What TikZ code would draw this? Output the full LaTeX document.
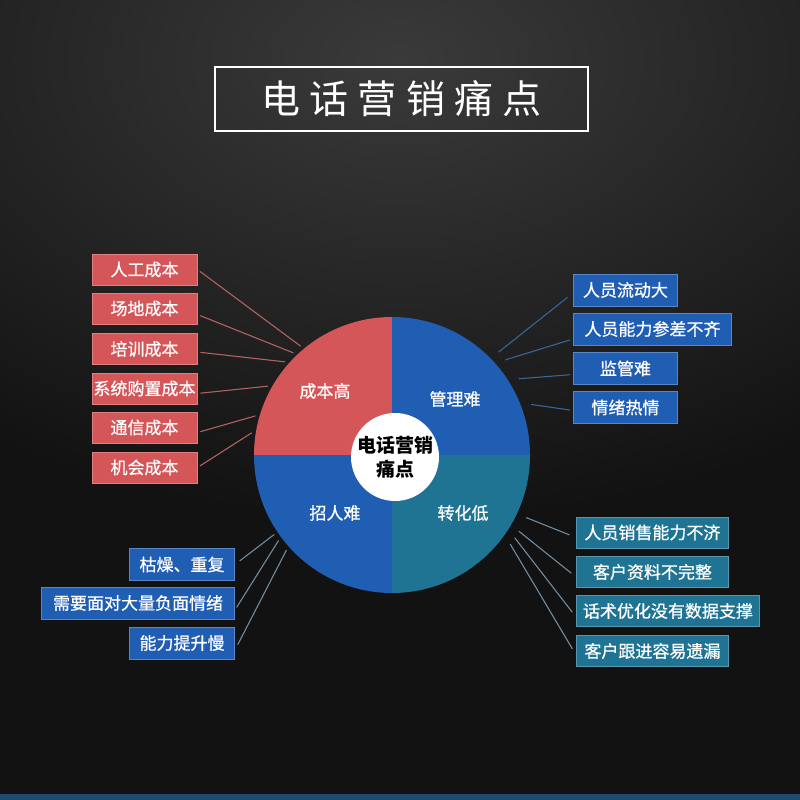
\documentclass[tikz,border=0pt]{standalone}
\usepackage{fontspec}
\setmainfont{Noto Sans CJK SC}
\newfontfamily\titlefont{Noto Sans CJK SC}[LetterSpace=24]
\newfontfamily\boxfont{Noto Sans CJK SC}[FakeBold=0.7]
\usetikzlibrary{calc}
\definecolor{bgdark}{RGB}{18,18,18}
\definecolor{bglight}{RGB}{58,58,58}
\definecolor{costred}{RGB}{212,86,88}
\definecolor{mgmtblue}{RGB}{32,94,180}
\definecolor{convteal}{RGB}{31,116,148}
\definecolor{redln}{RGB}{176,98,98}
\definecolor{blueln}{RGB}{58,100,150}
\definecolor{greyln}{RGB}{112,140,160}
\definecolor{stripblue}{RGB}{28,76,112}

\begin{document}
\begin{tikzpicture}[x=1pt, y=-1pt,
    painbox/.style={fill=#1, draw=#1!75!white, line width=0.9pt, text=white,
                    inner sep=0pt, minimum height=31pt, font=\boxfont\fontsize{17}{20}\selectfont},
    quad/.style={text=white, font=\boxfont\fontsize{17}{20}\selectfont},
    rim/.style={circle, minimum size=#1, inner sep=0pt, outer sep=0pt},
    link/.style={#1, line width=1.1pt, shorten <=3pt}
  ]
  \useasboundingbox (0,0) rectangle (800,800);
  % background
  \fill[bgdark] (0,0) rectangle (800,800);
  \begin{scope}
    \clip (0,0) rectangle (800,800);
    \shade[inner color=bglight, outer color=bgdark] (400,60) ellipse (720 and 460);
  \end{scope}
  \fill[stripblue] (0,794) rectangle (800,800);

  % title
  \node[draw=white, line width=1.3pt, minimum width=373pt, minimum height=64pt,
        text=white, font=\titlefont\fontsize{39}{44}\selectfont] (title) at (401.5,99)
        {电话营销痛点};

  % pie
  \coordinate (o) at (392,455);
  \fill[costred]  (o) -- +(180:138) arc[start angle=180, end angle=270, radius=138] -- cycle;
  \fill[mgmtblue] (o) -- +(270:138) arc[start angle=270, end angle=360, radius=138] -- cycle;
  \fill[convteal] (o) -- +(0:138)   arc[start angle=0,   end angle=90,  radius=138] -- cycle;
  \fill[mgmtblue] (o) -- +(90:138)  arc[start angle=90,  end angle=180, radius=138] -- cycle;
  \node[rim=284pt] (rimL) at (o) {};
  \node[rim=296pt] (rimR) at (o) {};
  \node[circle, fill=white, minimum size=88pt, inner sep=0pt, align=center,
        font=\fontsize{19}{24}\selectfont\bfseries] (core) at (395,457) {电话营销\\痛点};
  \node[quad] (qcost) at (325,391) {成本高};
  \node[quad] (qmgmt) at (455,399) {管理难};
  \node[quad] (qhire) at (335,513) {招人难};
  \node[quad] (qconv) at (463,513) {转化低};

  % cost boxes
  \node[painbox=costred, minimum width=105pt] (cost1) at (144.5,269.5) {人工成本};
  \node[painbox=costred, minimum width=105pt] (cost2) at (144.5,308.5) {场地成本};
  \node[painbox=costred, minimum width=105pt] (cost3) at (144.5,349)   {培训成本};
  \node[painbox=costred, minimum width=105pt] (cost4) at (144.5,388.5) {系统购置成本};
  \node[painbox=costred, minimum width=105pt] (cost5) at (144.5,427.5) {通信成本};
  \node[painbox=costred, minimum width=105pt] (cost6) at (144.5,467.5) {机会成本};

  % management boxes
  \node[painbox=mgmtblue, anchor=west, minimum width=104pt, minimum height=32pt] (mgmt1) at (573,290)   {人员流动大};
  \node[painbox=mgmtblue, anchor=west, minimum width=158pt, minimum height=32pt] (mgmt2) at (573,329)   {人员能力参差不齐};
  \node[painbox=mgmtblue, anchor=west, minimum width=104pt, minimum height=32pt] (mgmt3) at (573,368.5) {监管难};
  \node[painbox=mgmtblue, anchor=west, minimum width=104pt, minimum height=32pt] (mgmt4) at (573,407.5) {情绪热情};

  % hiring boxes
  \node[painbox=mgmtblue, anchor=east, minimum width=105pt, minimum height=32pt] (hire1) at (235,564.5) {枯燥、重复};
  \node[painbox=mgmtblue, anchor=east, minimum width=193pt, minimum height=32pt] (hire2) at (235,603)   {需要面对大量负面情绪};
  \node[painbox=mgmtblue, anchor=east, minimum width=105pt, minimum height=32pt] (hire3) at (235,643)   {能力提升慢};

  % conversion boxes
  \node[painbox=convteal, anchor=west, minimum width=152pt] (conv1) at (576,532.5) {人员销售能力不济};
  \node[painbox=convteal, anchor=west, minimum width=152pt] (conv2) at (576,572)   {客户资料不完整};
  \node[painbox=convteal, anchor=west, minimum width=183pt] (conv3) at (576,611)   {话术优化没有数据支撑};
  \node[painbox=convteal, anchor=west, minimum width=152pt] (conv4) at (576,651)   {客户跟进容易遗漏};

  % connectors
  \draw[link=redln] (cost1.east) -- (rimL.130);
  \draw[link=redln] ([yshift=-6pt]cost2.east) -- (rimL.134);
  \draw[link=redln] ([yshift=-3pt]cost3.east) -- (rimL.139);
  \draw[link=redln] ([yshift=-5pt]cost4.east) -- (rimL.151);
  \draw[link=redln] ([yshift=-5pt]cost5.east) -- (rimL.164);
  \draw[link=redln] (cost6.east) -- (rimL.171);

  \draw[link=blueln, shorten <=7pt] ([yshift=-3pt]mgmt1.west) -- (rimR.44);
  \draw[link=blueln] ([yshift=-10pt]mgmt2.west) -- (rimR.40);
  \draw[link=blueln] ([yshift=-6pt]mgmt3.west) -- (rimR.31);
  \draw[link=blueln] ([yshift=-3pt]mgmt4.west) -- (rimR.20);

  \draw[link=greyln, shorten <=6pt] (hire1.east) -- (rimL.214);
  \draw[link=greyln] ([yshift=-7pt]hire2.east) -- (rimL.217);
  \draw[link=greyln, shorten <=6pt] ([yshift=-7pt]hire3.east) -- (rimL.222);

  \draw[link=greyln, shorten <=7pt] ([yshift=-5pt]conv1.west) -- (rimR.335);
  \draw[link=greyln, shorten <=6pt] ([yshift=-5pt]conv2.west) -- (rimR.329);
  \draw[link=greyln, shorten <=6pt] ([yshift=-6pt]conv3.west) -- (rimR.326);
  \draw[link=greyln, shorten <=7pt] ([yshift=-4pt]conv4.west) -- (rimR.323);
\end{tikzpicture}
\end{document}
